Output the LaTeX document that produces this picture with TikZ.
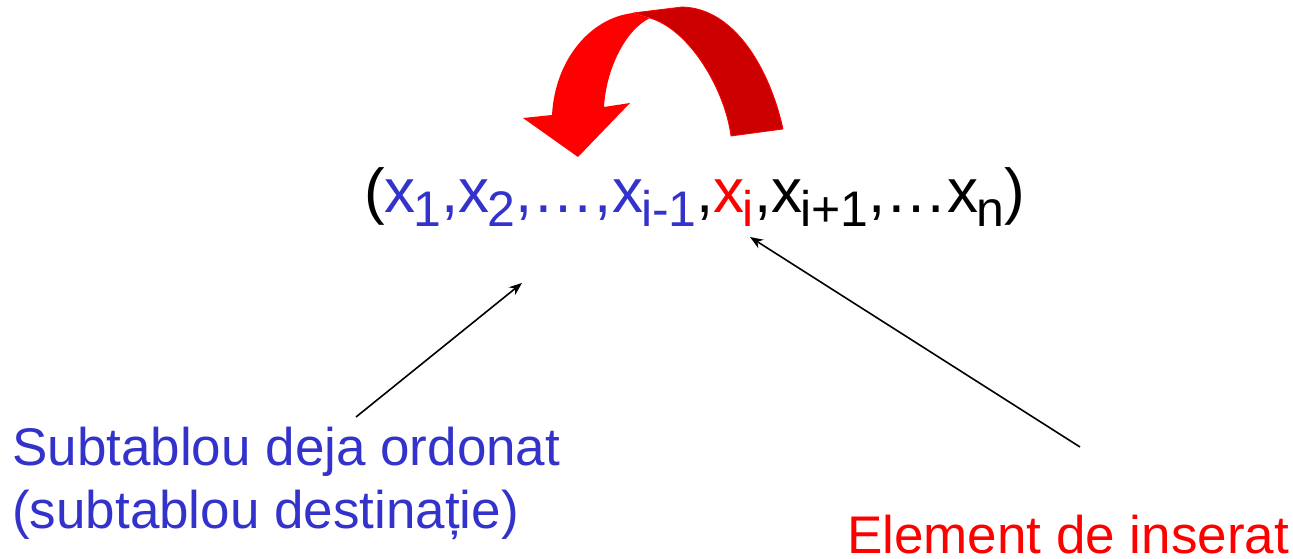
\documentclass[tikz,border=0pt]{standalone}
\usepackage{fontspec}
\setmainfont{Liberation Sans}
\usetikzlibrary{arrows.meta}
\definecolor{tblue}{HTML}{3333CC}
\definecolor{tred}{HTML}{FF0000}
\definecolor{dred}{HTML}{CC0000}
\newcommand\mysb[1]{\kern-2pt\raisebox{-14pt}{\fontsize{50}{50}\selectfont #1}}
\newcommand\mydots{…}
\tikzset{
  pointer/.style={draw=black, line width=1.6pt, -{Stealth[length=13pt,width=10pt]}},
  lbl/.style={inner sep=0pt, anchor=base west, font=\fontsize{53}{63}\selectfont}
}
\begin{document}
\begin{tikzpicture}[x=1pt,y=-1pt]
\useasboundingbox (0,0) rectangle (1293,559);
% curved arrow
\fill[dred] (783,129) .. controls (770,70) and (735,8) .. (682,7) -- (633,13) -- (650,18) .. controls (690,30) and (725,90) .. (731,136) -- cycle;
\draw[tred, line width=0.8pt] (783,129) .. controls (770,70) and (735,8) .. (682,7) -- (633,13) (650,18) .. controls (690,30) and (725,90) .. (731,136) -- (783,129);
\fill[tred] (633,13) .. controls (590,18) and (555,60) .. (552,115) -- (523,118) -- (578,157) -- (630,103) -- (604,107) .. controls (606,70) and (625,30) .. (650,18) -- cycle;
% formula
\node[inner sep=0pt, anchor=base west, font=\fontsize{62}{62}\selectfont] (f) at (364,212)
 {(\textcolor{tblue}{x\mysb{1},x\mysb{2},\mydots,x\mysb{i-1}},\textcolor{tred}{x\mysb{i}},x\mysb{i+1},\mydots x\mysb{n})};
% labels
\node[lbl, text=tblue, align=left] (s) at (12,528) {Subtablou deja ordonat\\(subtablou destinație)};
\node[lbl, text=tred] (e) at (847,553) {Element de inserat};
\coordinate (a1s) at (356,417);
\coordinate (a1e) at (522,283);
\coordinate (a2s) at (1080,447);
\coordinate (a2e) at (750,237);
\draw[pointer] (a1s) -- (a1e);
\draw[pointer] (a2s) -- (a2e);
\end{tikzpicture}
\end{document}
